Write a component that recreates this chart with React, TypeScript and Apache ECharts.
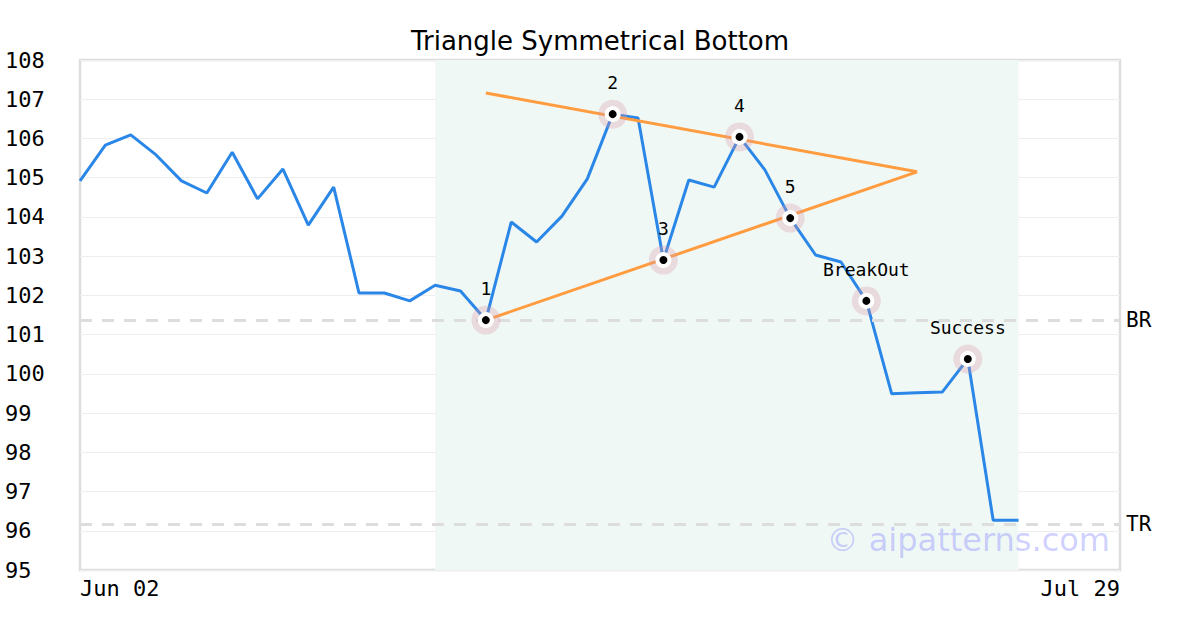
import React, { useEffect, useRef } from "react";
import * as echarts from "echarts";

const dates = [
  "Jun 02", "Jun 03", "Jun 04", "Jun 05", "Jun 06",
  "Jun 09", "Jun 10", "Jun 11", "Jun 12", "Jun 13",
  "Jun 16", "Jun 17", "Jun 18", "Jun 19", "Jun 20",
  "Jun 23", "Jun 24", "Jun 25", "Jun 26", "Jun 27",
  "Jun 30", "Jul 01", "Jul 02", "Jul 03", "Jul 04",
  "Jul 07", "Jul 08", "Jul 09", "Jul 10", "Jul 11",
  "Jul 14", "Jul 15", "Jul 16", "Jul 17", "Jul 18",
  "Jul 21", "Jul 22", "Jul 23", "Jul 24", "Jul 25",
  "Jul 28", "Jul 29",
];

const prices = [
  104.92, 105.83, 106.09, 105.58, 104.92, 104.61, 105.65, 104.46, 105.22, 103.79,
  104.76, 102.06, 102.06, 101.86, 102.26, 102.11, 101.37, 103.87, 103.36, 104.02,
  104.97, 106.62, 106.52, 102.9, 104.94, 104.76, 106.04, 105.2, 103.97, 103.03,
  102.85, 101.86, 99.49, 99.52, 99.54, 100.38, 96.27, 96.27,
];

const patternIdx = [16, 21, 23, 26, 28, 31, 35];
const patternNames = ["1", "2", "3", "4", "5", "BreakOut", "Success"];

const upperLine = [[16, 107.16], [33, 105.15]];
const lowerLine = [[16, 101.37], [33, 105.15]];

const zoneStart = 14;
const zoneEnd = 37;

const levelBR = 101.37;
const levelTR = 96.17;

const yTicks = { min: 95, max: 108, interval: 1 };

const MONO = "DejaVu Sans Mono";

export default function App() {
  const ref = useRef<HTMLDivElement>(null);
  useEffect(() => {
    document.body.style.margin = "0";
    const chart = echarts.init(ref.current!, null, { renderer: "svg" });
    const points = patternIdx.map((i) => [i, prices[i]]);
    chart.setOption({
      animation: false,
      title: {
        text: "Triangle Symmetrical Bottom",
        left: "center",
        top: 23,
        textStyle: { fontFamily: "DejaVu Sans", fontSize: 26, fontWeight: "normal", color: "#000" },
      },
      grid: {
        left: 80, right: 80, top: 60, bottom: 60,
        show: true, borderColor: "#dddddd", borderWidth: 2.5, backgroundColor: "transparent",
      },
      xAxis: {
        type: "category",
        data: dates,
        boundaryGap: false,
        axisLine: { show: false },
        axisTick: { show: false },
        splitLine: { show: false },
        axisLabel: {
          interval: (i: number) => i === 0 || i === dates.length - 1,
          alignMinLabel: "left",
          alignMaxLabel: "right",
          fontFamily: MONO,
          fontSize: 22,
          color: "#000",
          margin: 7,
        },
      },
      yAxis: {
        type: "value",
        min: yTicks.min,
        max: yTicks.max,
        interval: yTicks.interval,
        axisLine: { show: false },
        axisTick: { show: false },
        splitLine: { lineStyle: { color: "#eeeeee", width: 1 } },
        axisLabel: { fontFamily: MONO, fontSize: 22, color: "#000", align: "left", margin: 75 },
      },
      series: [
        {
          type: "line",
          data: prices,
          symbol: "none",
          lineStyle: { color: "#2a87e8", width: 3 },
          silent: true,
          z: 3,
          markArea: {
            silent: true,
            itemStyle: { color: "#f0f8f5" },
            data: [[{ xAxis: zoneStart }, { xAxis: zoneEnd }]],
          },
          markLine: {
            silent: true,
            symbol: "none",
            lineStyle: { color: "#dddddd", type: [12, 10], width: 3 },
            label: {
              position: "end",
              distance: 6,
              fontFamily: MONO,
              fontSize: 21,
              color: "#000",
            },
            data: [
              { yAxis: levelBR, label: { formatter: "BR" } },
              { yAxis: levelTR, label: { formatter: "TR" } },
            ],
          },
        },
        {
          type: "line",
          data: upperLine,
          symbol: "none",
          lineStyle: { color: "#ff9c40", width: 3 },
          silent: true,
          z: 4,
        },
        {
          type: "line",
          data: lowerLine,
          symbol: "none",
          lineStyle: { color: "#ff9c40", width: 3 },
          silent: true,
          z: 4,
        },
        {
          type: "scatter",
          data: points,
          symbolSize: 29,
          itemStyle: { color: "rgba(215,150,165,0.3)", opacity: 1 },
          silent: true,
          z: 5,
          label: {
            show: true,
            position: "top",
            distance: 8,
            fontFamily: MONO,
            fontSize: 18,
            color: "#000000",
            opacity: 1,
            formatter: (p: any) => patternNames[p.dataIndex],
          },
        },
        {
          type: "scatter",
          data: points,
          symbolSize: 12,
          itemStyle: { color: "#000", borderColor: "#fff", borderWidth: 4, opacity: 1 },
          silent: true,
          z: 6,
        },
      ],
      graphic: [
        {
          type: "text",
          right: 90,
          top: 524,
          style: {
            text: "© aipatterns.com",
            fontFamily: "DejaVu Sans",
            fontSize: 32,
            fill: "rgba(110,110,255,0.32)",
          },
          z: 10,
        },
      ],
    });
    return () => chart.dispose();
  }, []);
  return <div ref={ref} style={{ width: 1200, height: 630 }} />;
}
